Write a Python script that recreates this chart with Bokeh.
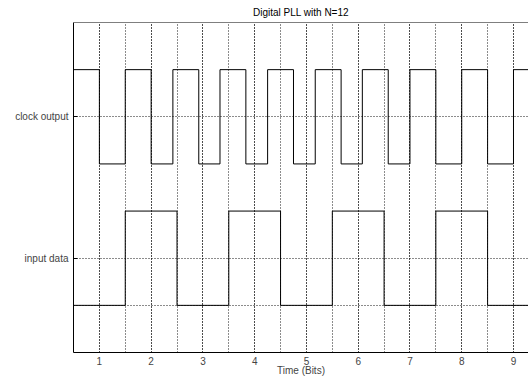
from bokeh.plotting import figure
from bokeh.models import (FixedTicker, SingleIntervalTicker, Grid, Span, Range1d)
from bokeh.embed import file_html
from bokeh.resources import INLINE

# ---- data ----
title_text = "Digital PLL with N=12"
x_label = "Time (Bits)"
y_tick_pos = [0.5, 2]
y_tick_labels = ["input data", "clock output"]

# clock output: edge times (bits) and level after each edge
clock_t = [0.5, 1.0, 1.5, 2.0, 2.42, 2.92, 3.33, 3.83, 4.25, 4.75, 5.17,
           5.67, 6.08, 6.58, 7.0, 7.5, 8.0, 8.5, 9.0, 9.5]
clock_v = [2.5, 1.5, 2.5, 1.5, 2.5, 1.5, 2.5, 1.5, 2.5, 1.5, 2.5,
           1.5, 2.5, 1.5, 2.5, 1.5, 2.5, 1.5, 2.5, 2.5]

# input data: edge times and level after each edge
data_t = [0.5, 1.5, 2.5, 3.5, 4.5, 5.5, 6.5, 7.5, 8.5, 9.5]
data_v = [0, 1, 0, 1, 0, 1, 0, 1, 0, 0]

X_START, X_END = 0.5, 9.29
Y_START, Y_END = -0.5, 3.0

FONT = "Liberation Sans"
DOT = "1 2"

p = figure(width=528, height=378, output_backend="svg", toolbar_location=None,
           x_range=Range1d(X_START, X_END), y_range=Range1d(Y_START, Y_END),
           min_border_left=73, min_border_right=0, min_border_top=22,
           min_border_bottom=26)

p.title.text = title_text
p.title.align = "center"
p.title.text_font = FONT
p.title.text_font_size = "10px"
p.title.text_font_style = "normal"
p.title.text_color = "black"
p.title.standoff = 9
p.outline_line_color = None

# signals
p.step(clock_t, clock_v, mode="after", line_color="black", line_width=1)
p.step(data_t, data_v, mode="after", line_color="black", line_width=1)

# x axis
xa = p.xaxis[0]
xa.ticker = SingleIntervalTicker(interval=1, num_minor_ticks=2)
xa.axis_label = x_label
xa.axis_label_text_font = FONT
xa.axis_label_text_font_size = "10px"
xa.axis_label_text_font_style = "normal"
xa.axis_label_standoff = -3
xa.major_label_text_font = FONT
xa.major_label_text_font_size = "10px"
xa.major_label_standoff = 4
xa.major_tick_in = 0
xa.major_tick_out = 0
xa.minor_tick_in = 0
xa.minor_tick_out = 0
xa.axis_line_color = "black"

# y axis
ya = p.yaxis[0]
ya.ticker = FixedTicker(ticks=y_tick_pos)
ya.major_label_overrides = {t: l for t, l in zip(y_tick_pos, y_tick_labels)}
ya.major_label_text_font = FONT
ya.major_label_text_font_size = "10px"
ya.major_label_standoff = 5
ya.major_tick_in = 4
ya.major_tick_out = 0
ya.minor_tick_in = 0
ya.minor_tick_out = 0
ya.axis_line_color = "black"

# grids
for g in (p.xgrid, p.ygrid):
    g.grid_line_color = "black"
    g.grid_line_dash = DOT
    g.grid_line_alpha = 0.9
p.xgrid.minor_grid_line_color = "black"
p.xgrid.minor_grid_line_dash = DOT
p.xgrid.minor_grid_line_alpha = 0.9
zero_grid = Grid(dimension=1, ticker=FixedTicker(ticks=[0]),
                 grid_line_color="black", grid_line_dash=DOT, grid_line_alpha=0.9)
p.add_layout(zero_grid)

# top border of frame
p.add_layout(Span(location=Y_END, dimension="width", line_color="black", line_width=1))

open("out.html", "w").write(file_html(p, INLINE))
